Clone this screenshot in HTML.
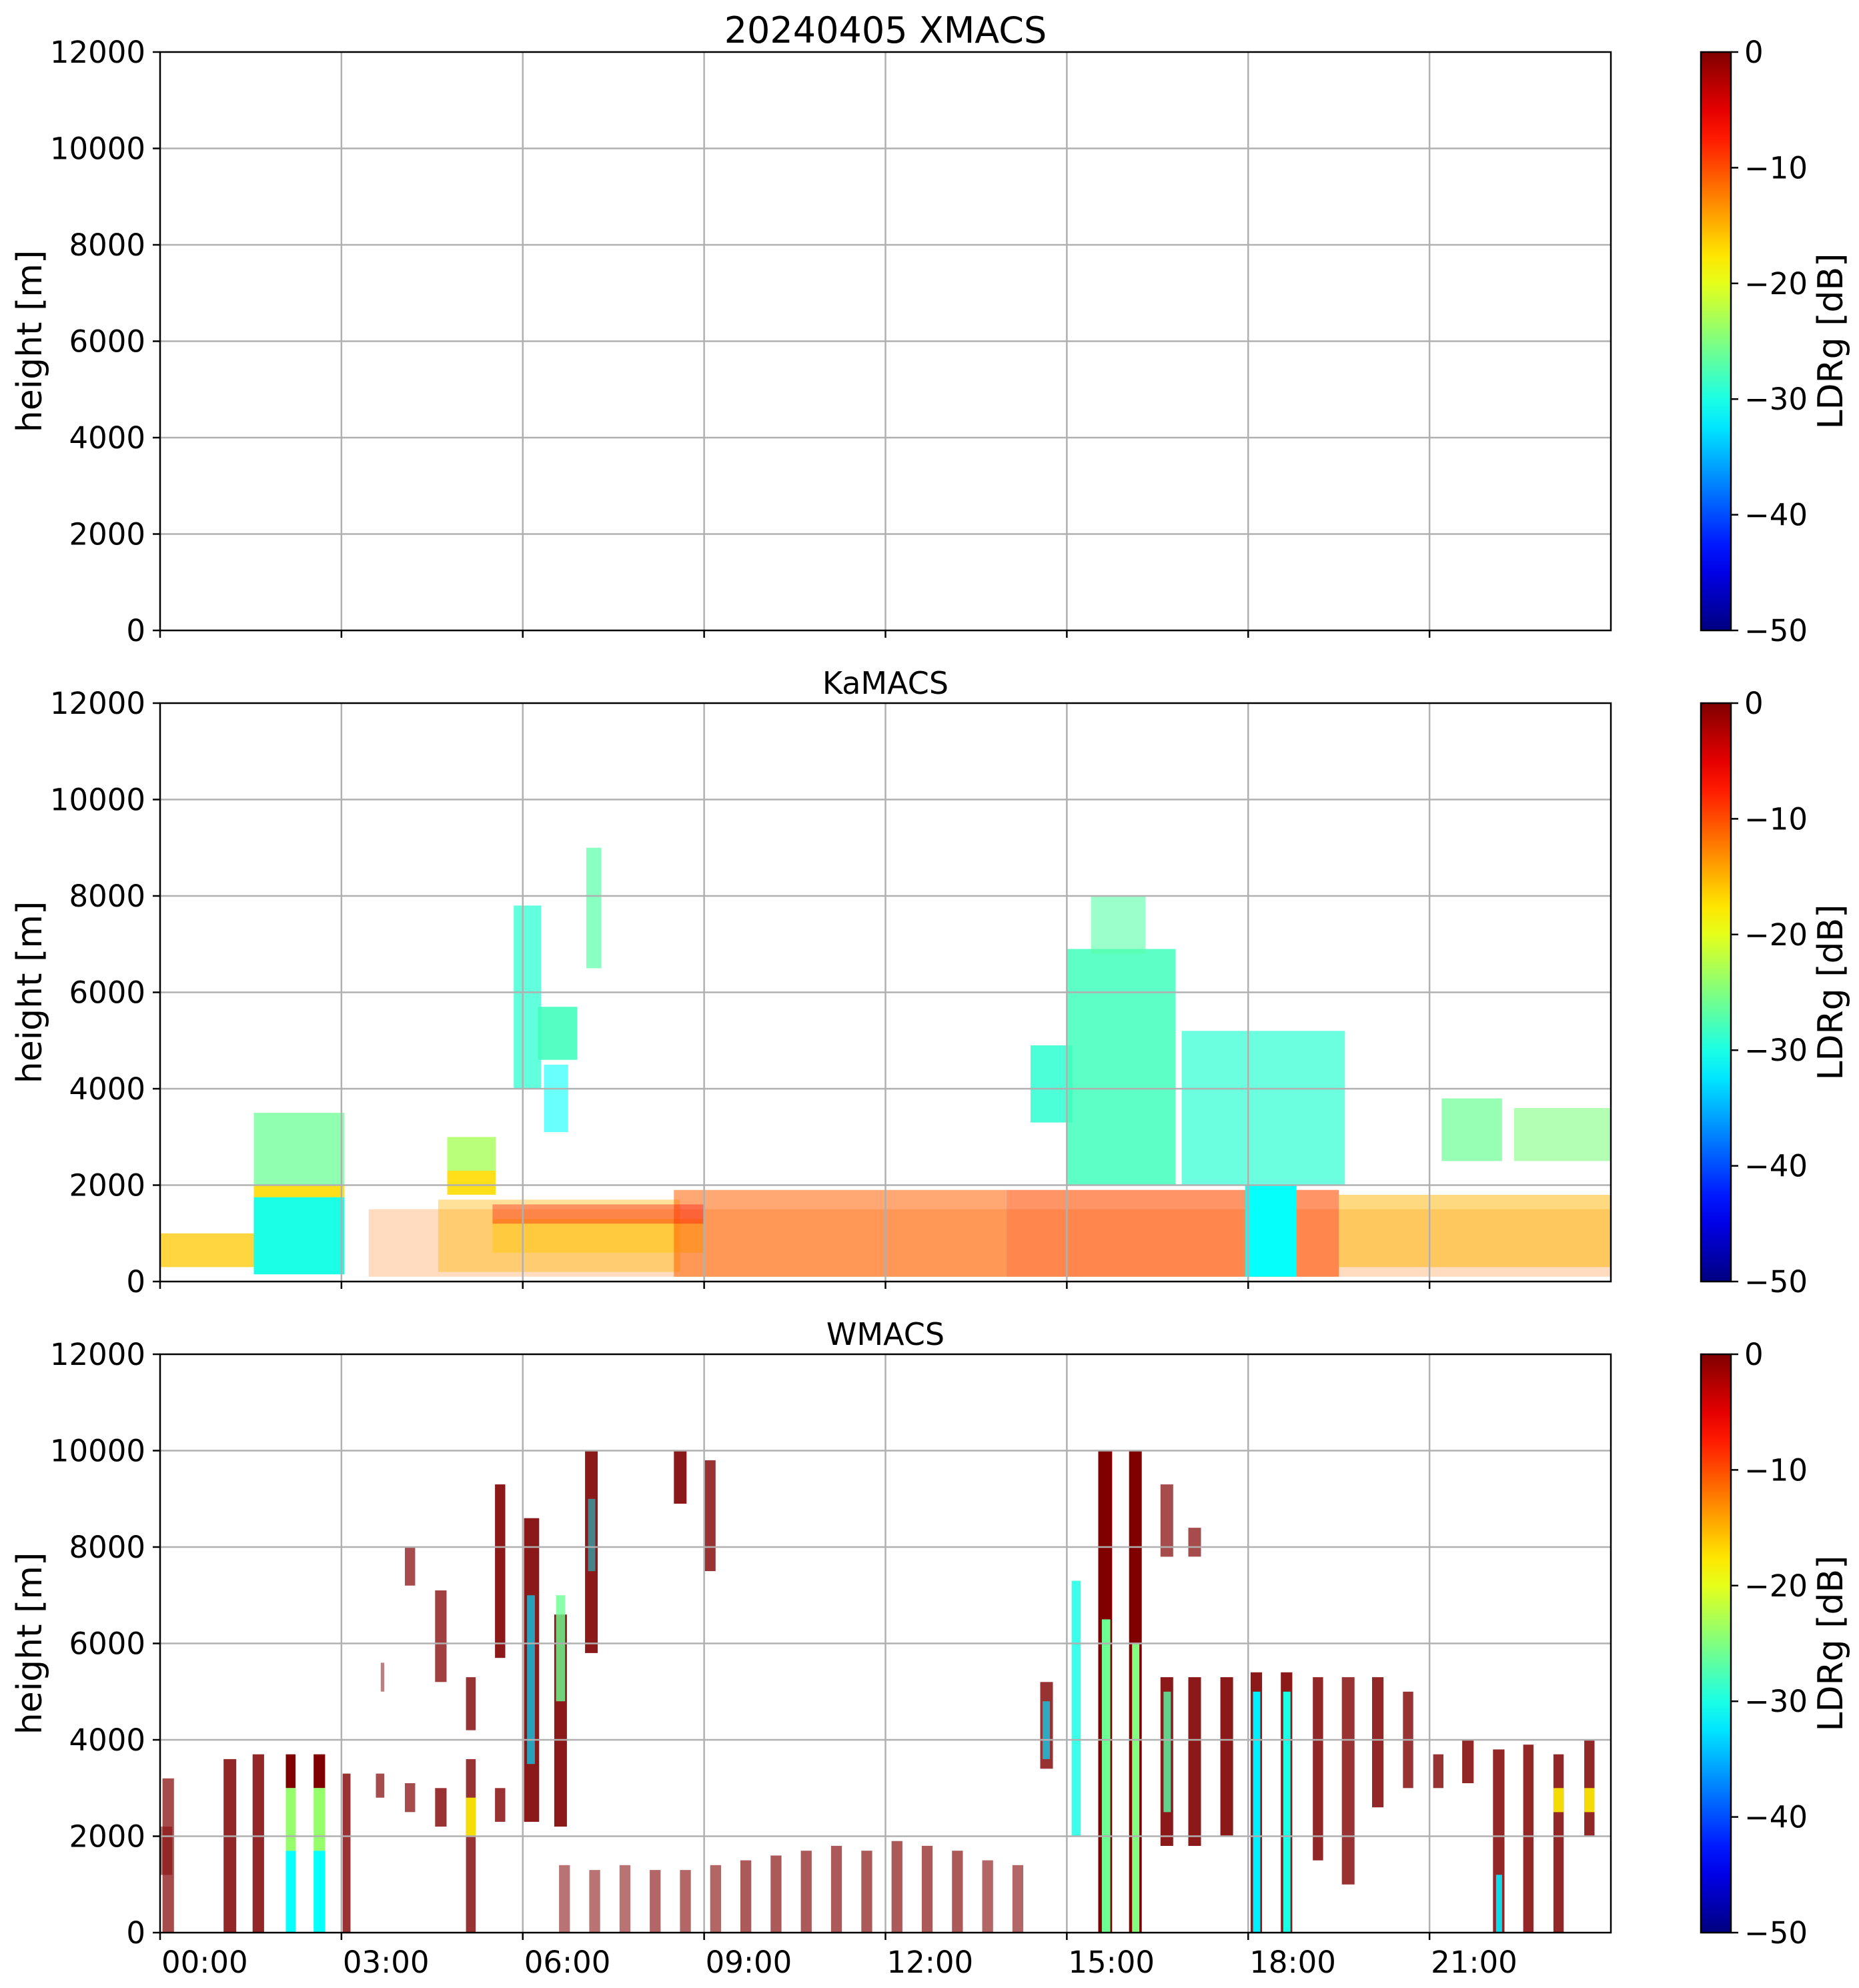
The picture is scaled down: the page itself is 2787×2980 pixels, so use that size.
<!DOCTYPE html>
<html><head><meta charset="utf-8"><title>20240405 XMACS LDRg</title>
<style>html,body{margin:0;padding:0;background:#fff}svg{display:block;font-family:"DejaVu Sans","Liberation Sans",sans-serif}</style>
</head><body>
<svg id="fig" width="2787" height="2980" viewBox="0 0 2787 2980" xmlns="http://www.w3.org/2000/svg"></svg>
<script>
// ---- data ----
const panelTitles = ["20240405 XMACS", "KaMACS", "WMACS"];
const xTickHours = [0, 3, 6, 9, 12, 15, 18, 21];
const xTickLabels = ["00:00", "03:00", "06:00", "09:00", "12:00", "15:00", "18:00", "21:00"];
const yTicks = [0, 2000, 4000, 6000, 8000, 10000, 12000];
const cbTicks = [0, -10, -20, -30, -40, -50];

// KaMACS echo regions: start hour, end hour, bottom m, top m, LDR dB, fill density
const kaStart = [0.0, 1.55, 1.55, 1.55, 4.75, 4.75, 5.85, 6.25, 6.35, 7.05, 3.45, 4.6, 5.5, 8.5, 14.0, 19.5, 5.5, 14.4, 15.0, 15.4, 16.9, 17.95, 21.2, 22.4];
const kaEnd   = [1.55, 3.05, 3.05, 3.05, 5.55, 5.55, 6.3, 6.9, 6.75, 7.3, 24.0, 8.6, 9.0, 14.0, 19.5, 24.0, 9.0, 15.1, 16.8, 16.3, 19.6, 18.8, 22.2, 24.0];
const kaBot   = [300, 150, 1750, 2000, 1800, 2300, 4000, 4600, 3100, 6500, 100, 200, 600, 100, 100, 300, 1200, 3300, 2000, 6800, 2000, 100, 2500, 2500];
const kaTop   = [1000, 1750, 2000, 3500, 2300, 3000, 7800, 5700, 4500, 9000, 1500, 1700, 1300, 1900, 1900, 1800, 1600, 4900, 6900, 8000, 5200, 2000, 3800, 3600];
const kaLdr   = [-16, -30, -17, -26, -17, -23, -29, -28, -31, -27, -12, -15, -16, -11, -10, -15, -6, -29, -28, -27, -29, -31, -26, -25];
const kaDens  = [0.75, 1.0, 0.9, 0.75, 0.9, 0.8, 0.75, 0.9, 0.6, 0.7, 0.25, 0.4, 0.45, 0.55, 0.6, 0.5, 0.35, 0.85, 0.85, 0.6, 0.7, 1.0, 0.7, 0.6];

// WMACS echo regions
const wStart = [0.04, 1.05, 1.53, 2.08, 2.08, 2.08, 2.54, 2.54, 2.54, 3.02, 3.57, 4.05, 4.55, 5.06, 5.06, 5.54, 3.65, 4.05, 4.55, 5.06, 5.54, 6.02, 6.07, 6.52, 6.55, 7.03, 7.08, 8.5, 9.0,
  6.6, 7.1, 7.6, 8.1, 8.6, 9.1, 9.6, 10.1, 10.6, 11.1, 11.6, 12.1, 12.6, 13.1, 13.6, 14.1,
  14.56, 14.6, 15.08, 15.52, 15.58, 16.03, 16.08, 16.55, 16.6, 17.01, 17.54, 18.04, 18.08, 18.54, 18.58, 19.07, 19.55, 20.05, 20.56, 21.06, 21.54, 22.05, 22.55, 23.05, 23.05, 23.56, 23.56, 16.55, 17.01, 0.0, 22.1];
const wEnd   = [0.23, 1.26, 1.72, 2.24, 2.24, 2.24, 2.73, 2.73, 2.73, 3.15, 3.71, 4.22, 4.74, 5.22, 5.22, 5.71, 3.71, 4.22, 4.74, 5.22, 5.71, 6.27, 6.2, 6.73, 6.7, 7.24, 7.2, 8.71, 9.19,
  6.78, 7.28, 7.78, 8.28, 8.78, 9.28, 9.78, 10.28, 10.78, 11.28, 11.78, 12.28, 12.78, 13.28, 13.78, 14.28,
  14.77, 14.72, 15.23, 15.75, 15.72, 16.24, 16.2, 16.76, 16.72, 17.22, 17.75, 18.23, 18.2, 18.73, 18.7, 19.24, 19.76, 20.24, 20.73, 21.23, 21.73, 22.24, 22.72, 23.22, 23.22, 23.73, 23.73, 16.76, 17.22, 0.2, 22.2];
const wBot   = [0, 0, 0, 3000, 0, 1700, 3000, 0, 1700, 0, 2800, 2500, 2200, 0, 2000, 2300, 5000, 7200, 5200, 4200, 5700, 2300, 3500, 2200, 4800, 5800, 7500, 8900, 7500,
  0, 0, 0, 0, 0, 0, 0, 0, 0, 0, 0, 0, 0, 0, 0, 0,
  3400, 3600, 2000, 0, 0, 0, 0, 1800, 2500, 1800, 2000, 0, 0, 0, 0, 1500, 1000, 2600, 3000, 3000, 3100, 0, 0, 0, 2500, 2000, 2500, 7800, 7800, 1200, 0];
const wTop   = [3200, 3600, 3700, 3700, 1700, 3000, 3700, 1700, 3000, 3300, 3300, 3100, 3000, 3600, 2800, 3000, 5600, 8000, 7100, 5300, 9300, 8600, 7000, 6600, 7000, 10000, 9000, 10000, 9800,
  1400, 1300, 1400, 1300, 1300, 1400, 1500, 1600, 1700, 1800, 1700, 1900, 1800, 1700, 1500, 1400,
  5200, 4800, 7300, 10000, 6500, 10000, 6000, 5300, 5000, 5300, 5300, 5400, 5000, 5400, 5000, 5300, 5300, 5300, 5000, 3700, 4000, 3800, 3900, 3700, 3000, 4000, 3000, 9300, 8400, 2200, 1200];
const wLdr   = [0, 0, 0, 0, -31, -24, 0, -31, -24, 0, 0, 0, 0, 0, -18, 0, 0, 0, 0, 0, 0, 0, -33, 0, -26, 0, -32, 0, 0,
  0, 0, 0, 0, 0, 0, 0, 0, 0, 0, 0, 0, 0, 0, 0, 0,
  0, -33, -30, 0, -26, 0, -25, 0, -27, 0, 0, 0, -32, 0, -30, 0, 0, 0, 0, 0, 0, 0, 0, 0, -18, 0, -18, 0, 0, 0, -32];
const wDens  = [0.7, 0.85, 0.85, 1.0, 1.0, 1.0, 1.0, 1.0, 1.0, 0.8, 0.7, 0.7, 0.8, 0.8, 0.9, 0.8, 0.5, 0.7, 0.75, 0.8, 0.9, 0.9, 0.7, 0.9, 0.8, 0.9, 0.5, 0.9, 0.8,
  0.55, 0.55, 0.55, 0.6, 0.6, 0.6, 0.65, 0.65, 0.65, 0.65, 0.65, 0.65, 0.65, 0.65, 0.6, 0.6,
  0.8, 0.7, 0.85, 1.0, 1.0, 1.0, 1.0, 0.9, 0.8, 0.9, 0.9, 0.9, 1.0, 0.9, 1.0, 0.85, 0.8, 0.85, 0.8, 0.8, 0.85, 0.85, 0.85, 0.85, 0.9, 0.85, 0.9, 0.7, 0.7, 0.5, 0.9];

// ---- layout ----
const NS = "http://www.w3.org/2000/svg";
const svg = document.getElementById("fig");
const X0 = 240, X1 = 2415;
const panelTops = [78, 1054, 2030];
const PH = 867;
const CBX = 2550, CBW = 45;

function mk(tag, attrs, parent) {
  const e = document.createElementNS(NS, tag);
  for (const k in attrs) e.setAttribute(k, attrs[k]);
  (parent || svg).appendChild(e);
  return e;
}
function jet(v) { // v -50..0
  let t = Math.max(0, Math.min(1, (v + 50) / 50));
  const r = Math.max(0, Math.min(1, 1.5 - Math.abs(4 * t - 3)));
  const g = Math.max(0, Math.min(1, 1.5 - Math.abs(4 * t - 2)));
  const b = Math.max(0, Math.min(1, 1.5 - Math.abs(4 * t - 1)));
  return `rgb(${Math.round(r * 255)},${Math.round(g * 255)},${Math.round(b * 255)})`;
}
const xScale = h => X0 + (h / 24) * (X1 - X0);

const defs = mk("defs", {});
const grad = mk("linearGradient", { id: "jetg", x1: "0", y1: "1", x2: "0", y2: "0" }, defs);
for (let i = 0; i <= 20; i++) {
  mk("stop", { offset: (i / 20).toFixed(2), "stop-color": jet(-50 + i * 2.5) }, grad);
}

panelTops.forEach((top, p) => {
  const bot = top + PH;
  const yScale = m => bot - (m / 12000) * PH;
  const g = mk("g", {});
  
  

  const dg = mk("g", {}, g);
  
  
  let S = null, E, B, T, L, D;
  if (p === 1) { S = kaStart; E = kaEnd; B = kaBot; T = kaTop; L = kaLdr; D = kaDens; }
  if (p === 2) { S = wStart; E = wEnd; B = wBot; T = wTop; L = wLdr; D = wDens; }
  if (S) {
    for (let i = 0; i < S.length; i++) {
      const r = mk("rect", {
        x: xScale(S[i]).toFixed(1), y: yScale(T[i]).toFixed(1),
        width: (xScale(E[i]) - xScale(S[i])).toFixed(1),
        height: (yScale(B[i]) - yScale(T[i])).toFixed(1),
        fill: L[i] >= 0 ? "#800000" : jet(L[i]), "fill-opacity": D[i]
      }, dg);
      
      
    }
  }

  xTickHours.forEach(h => {
    if (h === 0) return;
    const l = mk("line", { x1: xScale(h), x2: xScale(h), y1: top, y2: bot, stroke: "#b0b0b0", "stroke-width": 2.5 }, g);
    
    
  });
  yTicks.forEach(v => {
    const y = yScale(v);
    if (v > 0 && v < 12000) {
      const l = mk("line", { x1: X0, x2: X1, y1: y, y2: y, stroke: "#b0b0b0", "stroke-width": 2.5 }, g);
      
      
    }
    mk("line", { x1: X0 - 11, x2: X0, y1: y, y2: y, stroke: "#000", "stroke-width": 2.5 }, g);
    const t = mk("text", { x: X0 - 22, y: y + 16, "text-anchor": "end", "font-size": 45 }, g);
    t.textContent = v;
    
    
  });
  xTickHours.forEach((h, i) => {
    mk("line", { x1: xScale(h), x2: xScale(h), y1: bot, y2: bot + 11, stroke: "#000", "stroke-width": 2.5 }, g);
    if (p === 2) {
      const t = mk("text", { x: xScale(h) + 2, y: bot + 60, "text-anchor": "start", "font-size": 45 }, g);
      t.textContent = xTickLabels[i];
      
      
    }
  });
  const fr = mk("rect", { x: X0, y: top, width: X1 - X0, height: PH, fill: "none", stroke: "#000", "stroke-width": 2.5 }, g);
  
  

  const tt = mk("text", { x: (X0 + X1) / 2, y: top - 14, "text-anchor": "middle", "font-size": p === 0 ? 54 : 46 }, g);
  tt.textContent = panelTitles[p];
  
  

  const yl = mk("text", { x: 0, y: 0, "text-anchor": "middle", "font-size": 52, transform: `translate(62,${top + PH / 2}) rotate(-90)` }, g);
  yl.textContent = "height [m]";
  
  

  const cb = mk("g", {}, g);
  
  
  mk("rect", { x: CBX, y: top, width: CBW, height: PH, fill: "url(#jetg)", stroke: "#000", "stroke-width": 2.5 }, cb);
  cbTicks.forEach(v => {
    const y = top + (-v / 50) * PH;
    mk("line", { x1: CBX + CBW, x2: CBX + CBW + 11, y1: y, y2: y, stroke: "#000", "stroke-width": 2.5 }, cb);
    const t = mk("text", { x: CBX + CBW + 20, y: y + 16, "font-size": 45 }, cb);
    t.textContent = v === 0 ? "0" : "\u2212" + Math.abs(v);
    
    
  });
  const cl = mk("text", { x: 0, y: 0, "text-anchor": "middle", "font-size": 52, transform: `translate(2762,${top + PH / 2}) rotate(-90)` }, cb);
  cl.textContent = "LDRg [dB]";
  
  
});
</script>
</body></html>
